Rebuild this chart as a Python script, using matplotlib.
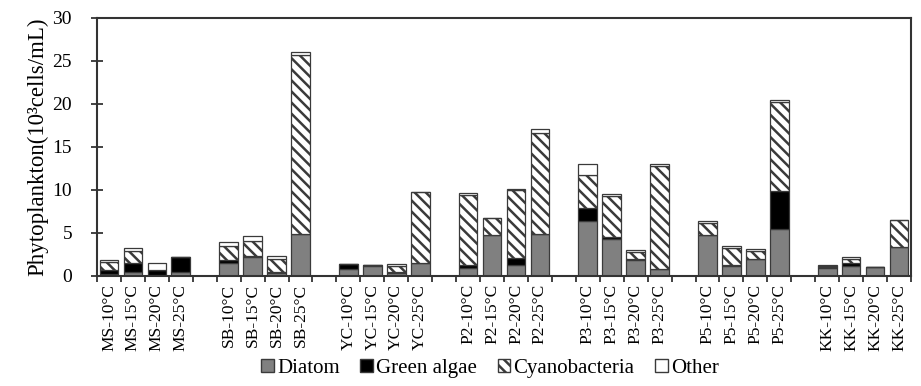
import numpy as np
import matplotlib
matplotlib.use("Agg")
import matplotlib.pyplot as plt
from matplotlib.patches import Patch

plt.rcParams['font.family'] = ['Liberation Serif', 'DejaVu Serif']
plt.rcParams['hatch.linewidth'] = 1.8
plt.rcParams['hatch.color'] = 'black'

sites = ["MS", "SB", "YC", "P2", "P3", "P5", "KK"]
temps = ["10", "15", "20", "25"]
labels = [f"{s}-{t}°C" for s in sites for t in temps]

diatom = [0.2, 0.4, 0.1, 0.4,
          1.5, 2.2, 0.3, 4.8,
          0.8, 1.15, 0.3, 1.4,
          0.9, 4.7, 1.25, 4.8,
          6.3, 4.3, 1.85, 0.75,
          4.7, 1.15, 1.9, 5.4,
          0.9, 1.1, 0.95, 3.3]
green = [0.4, 1.1, 0.5, 1.7,
         0.35, 0.05, 0.05, 0.05,
         0.5, 0.05, 0.1, 0.1,
         0.35, 0.05, 0.75, 0.05,
         1.55, 0.15, 0.1, 0.05,
         0.05, 0.05, 0.05, 4.4,
         0.1, 0.3, 0.05, 0.05]
cyano = [1.0, 1.4, 0.0, 0.05,
         1.55, 1.8, 1.6, 20.8,
         0.0, 0.0, 0.7, 8.2,
         8.1, 1.9, 8.0, 11.8,
         3.9, 4.8, 0.8, 11.9,
         1.4, 1.95, 0.85, 10.4,
         0.15, 0.5, 0.0, 3.1]
other = [0.2, 0.3, 0.9, 0.05,
         0.5, 0.5, 0.35, 0.35,
         0.0, 0.0, 0.2, 0.05,
         0.25, 0.05, 0.05, 0.4,
         1.2, 0.3, 0.2, 0.25,
         0.2, 0.25, 0.25, 0.2,
         0.05, 0.3, 0.0, 0.05]

n = len(labels)
idx = np.arange(n)
x = idx + idx // 4          # blank slot between sites
nslots = len(sites) * 5 - 1

fig = plt.figure(figsize=(9.21, 3.86), dpi=100)
ax = fig.add_axes([97 / 921, 1 - 275.5 / 386, 814 / 921, 257.5 / 386])

w = 0.78
ec = '#3a3a3a'
lw = 0.9
d = np.array(diatom)
g = np.array(green)
c = np.array(cyano)
o = np.array(other)
ax.bar(x, d, w, color='#808080', edgecolor=ec, linewidth=lw)
ax.bar(x, g, w, bottom=d, color='black', edgecolor=ec, linewidth=lw)
ax.bar(x, c, w, bottom=d + g, color='white', hatch='\\\\\\', edgecolor=ec, linewidth=lw)
ax.bar(x, o, w, bottom=d + g + c, color='white', edgecolor=ec, linewidth=lw)

ax.set_xlim(-0.5, nslots - 0.5)
ax.set_ylim(0, 30)
ax.set_yticks(range(0, 31, 5))
ax.set_xticks(x)
ax.set_xticklabels(labels, rotation=90, fontsize=12.5)
ax.set_xticks(np.arange(-0.5, nslots, 1.0), minor=True)
ax.tick_params(axis='x', which='major', length=0, pad=6)
ax.tick_params(axis='x', which='minor', direction='out', length=4, width=1.2, color='#222222')
ax.tick_params(axis='y', direction='inout', length=8, width=1.2, labelsize=14,
               pad=14, color='#222222')
for sp in ax.spines.values():
    sp.set_linewidth(1.5)
    sp.set_color('#333333')

ax.set_ylabel("Phytoplankton(10³cells/mL)", fontsize=16.5, labelpad=3)

handles = [Patch(facecolor='#808080', edgecolor=ec, label='Diatom'),
           Patch(facecolor='black', edgecolor=ec, label='Green algae'),
           Patch(facecolor='white', edgecolor=ec, hatch='\\\\\\', label='Cyanobacteria'),
           Patch(facecolor='white', edgecolor=ec, label='Other')]
fig.legend(handles=handles, loc='center', bbox_to_anchor=(0.532, 0.045), ncol=4,
           frameon=False, fontsize=15, handlelength=0.6, handleheight=0.6,
           handletextpad=0.15, columnspacing=1.0)

fig.savefig("out.png", dpi=100)
